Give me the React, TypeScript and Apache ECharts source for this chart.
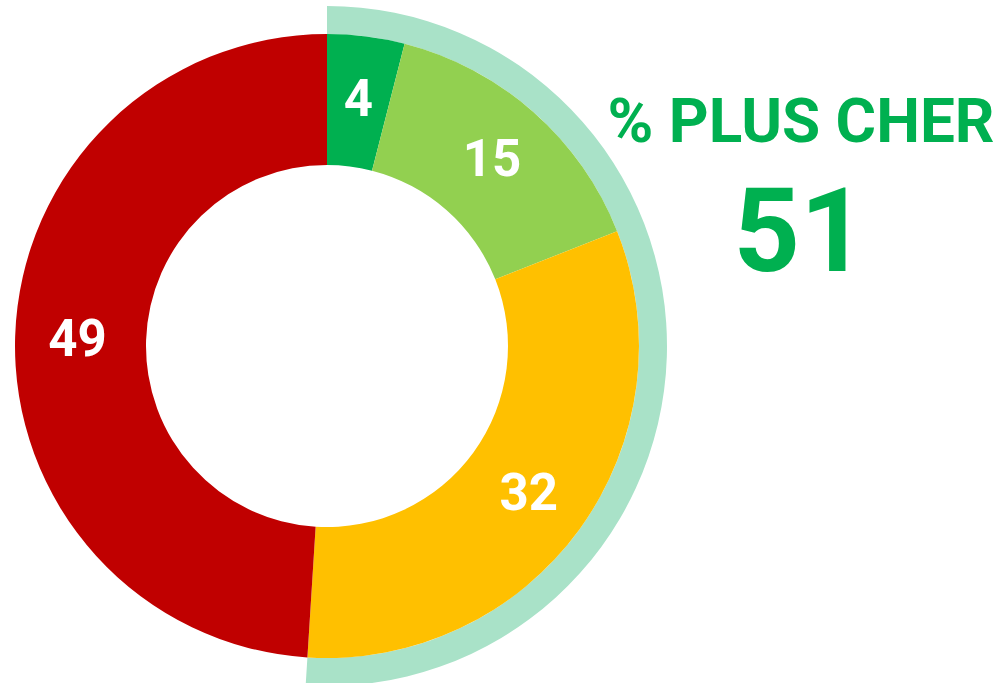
import React, { useEffect, useRef } from "react";
import * as echarts from "echarts";

const categories = ["Beaucoup moins cher", "Moins cher", "Plus cher", "Beaucoup plus cher"];
const values = [4, 15, 32, 49];
const colors = ["#00B050", "#92D050", "#FFC000", "#C00000"];
const highlightLabel = "% PLUS CHER";
const highlightValue = 51;
const bandColor = "#A9E2C8";

export default function App() {
  const ref = useRef<HTMLDivElement>(null);
  useEffect(() => {
    if (!ref.current) return;
    const chart = echarts.init(ref.current, null, { renderer: "svg" });
    chart.setOption({
      animation: false,
      series: [
        {
          type: "pie",
          center: [327, 346],
          radius: [312, 340],
          startAngle: 90,
          clockwise: true,
          silent: true,
          label: { show: false },
          labelLine: { show: false },
          data: [
            { value: highlightValue, itemStyle: { color: bandColor } },
            { value: 100 - highlightValue, itemStyle: { color: "rgba(0,0,0,0)" } },
          ],
        },
        {
          type: "pie",
          center: [327, 346],
          radius: [181, 312],
          startAngle: 90,
          clockwise: true,
          itemStyle: { borderWidth: 0 },
          label: {
            show: true,
            position: "inside",
            formatter: "{c}",
            color: "#ffffff",
            fontFamily: "Roboto",
            fontWeight: 700,
            fontSize: 51,
            padding: [7, 0, 0, 0],
          },
          labelLine: { show: false },
          data: categories.map((c, i) => ({
            name: c,
            value: values[i],
            itemStyle: { color: colors[i] },
          })),
        },
      ],
      graphic: [
        {
          type: "text",
          x: 801,
          y: 120,
          style: {
            text: highlightLabel,
            fill: "#00B050",
            font: "700 62px Roboto",
            textAlign: "center",
            textVerticalAlign: "middle",
          },
        },
        {
          type: "text",
          x: 800,
          y: 231,
          style: {
            text: String(highlightValue),
            fill: "#00B050",
            font: "700 116px Roboto",
            textAlign: "center",
            textVerticalAlign: "middle",
          },
        },
      ],
    });
    return () => chart.dispose();
  }, []);
  return (
    <div
      ref={ref}
      style={{ position: "absolute", left: 0, top: 0, width: 997, height: 683, background: "#fff" }}
    />
  );
}
